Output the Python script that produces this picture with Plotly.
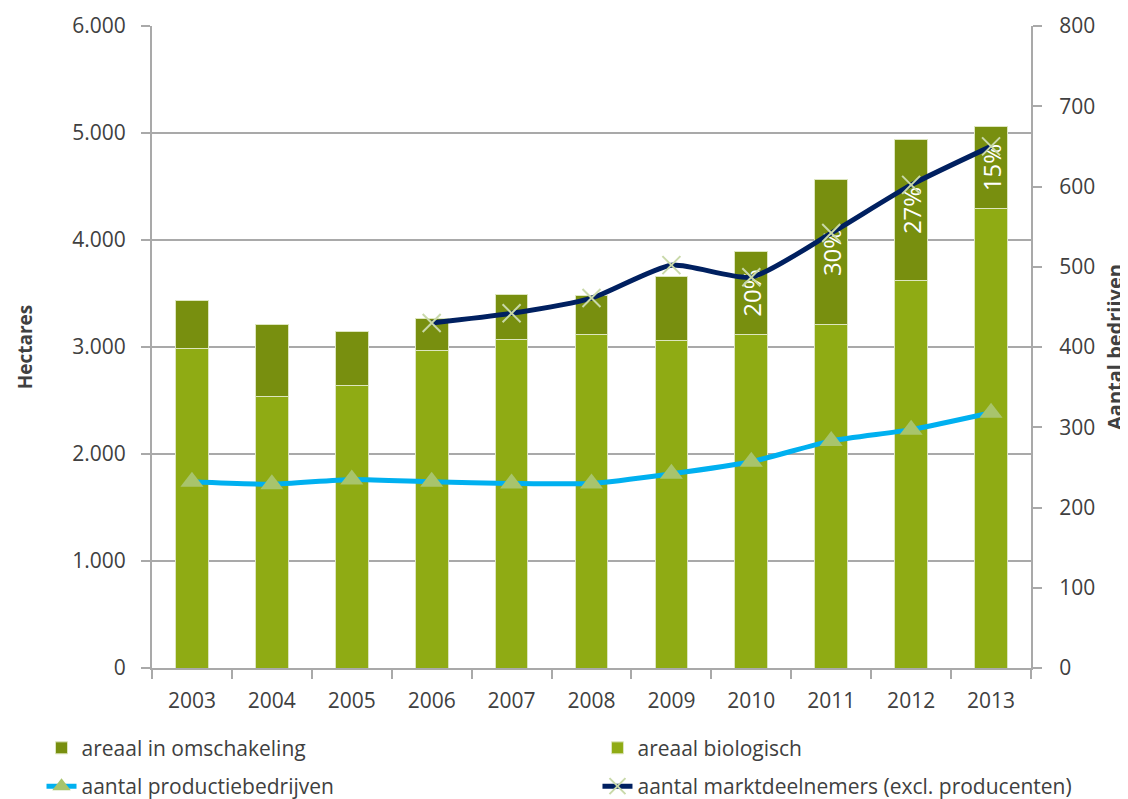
import plotly.graph_objects as go

years = ["2003", "2004", "2005", "2006", "2007", "2008", "2009", "2010", "2011", "2012", "2013"]
areaal_biologisch = [2988, 2542, 2636, 2972, 3072, 3121, 3062, 3121, 3206, 3617, 4293]
areaal_omschakeling = [445, 670, 507, 290, 420, 365, 595, 767, 1355, 1318, 766]
omschakeling_labels = ["", "", "", "", "", "", "", "20%", "30%", "27%", "15%"]
productiebedrijven = [232, 229, 235, 232, 230, 230, 242, 257, 283, 297, 318]
markt_years = ["2006", "2007", "2008", "2009", "2010", "2011", "2012", "2013"]
marktdeelnemers = [430, 442, 461, 502, 487, 542, 602, 650]
left_ticks = [0, 1000, 2000, 3000, 4000, 5000, 6000]
left_ticktext = ["0", "1.000", "2.000", "3.000", "4.000", "5.000", "6.000"]
right_ticks = [0, 100, 200, 300, 400, 500, 600, 700, 800]

FONT = "Open Sans"
TXT = "#404040"
GRID = "#A9A9A9"

fig = go.Figure()
fig.add_trace(go.Bar(
    x=years, y=areaal_biologisch, name="areaal biologisch",
    marker=dict(color="#8FAB14", line=dict(color="#DDE6BE", width=1)),
    legend="legend2", legendgroup="b", legendrank=1,
))
fig.add_trace(go.Bar(
    x=years, y=areaal_omschakeling, name="areaal in omschakeling",
    marker=dict(color="#788F0F", line=dict(color="#DDE6BE", width=1)),
    text=omschakeling_labels, textposition="inside", insidetextanchor="middle",
    textangle=-90, constraintext="none",
    insidetextfont=dict(family=FONT, size=24, color="white"),
    legend="legend", legendgroup="a", legendrank=1,
))
fig.add_trace(go.Scatter(
    x=years, y=productiebedrijven, name="aantal productiebedrijven", yaxis="y2",
    mode="lines+markers", line=dict(color="#00B0F0", width=5, shape="spline", smoothing=0.6),
    marker=dict(symbol="triangle-up", size=20, color="#A8C46C"),
    legend="legend", legendgroup="c", legendrank=2,
))
fig.add_trace(go.Scatter(
    x=markt_years, y=marktdeelnemers, name="aantal marktdeelnemers (excl. producenten)", yaxis="y2",
    mode="lines+markers", line=dict(color="#002060", width=5, shape="spline", smoothing=0.6),
    marker=dict(symbol="x-thin", size=18, color="#C9D9A9", line=dict(color="#C9D9A9", width=2)),
    legend="legend2", legendgroup="d", legendrank=2,
))

legend_common = dict(
    orientation="v", yanchor="top", xanchor="left", traceorder="grouped",
    tracegroupgap=8, font=dict(family=FONT, size=21, color=TXT),
    bgcolor="rgba(0,0,0,0)", borderwidth=0,
)

fig.update_layout(
    width=1120, height=791,
    margin=dict(l=144, r=97, t=18, b=131, autoexpand=False),
    paper_bgcolor="white", plot_bgcolor="white",
    barmode="stack", bargap=0.59,
    font=dict(family=FONT, size=21, color=TXT),
    xaxis=dict(
        type="category", range=[-0.5, len(years) - 0.5], showline=True, linecolor=GRID, linewidth=2,
        ticks="outside", tickson="boundaries", ticklen=9, tickcolor=GRID, tickwidth=2,
        ticklabelstandoff=13,
        tickfont=dict(family=FONT, size=21, color=TXT), showgrid=False,
    ),
    yaxis=dict(
        range=[0, 6000], tickvals=left_ticks, ticktext=left_ticktext,
        showgrid=True, gridcolor=GRID, gridwidth=2, zeroline=False,
        showline=True, linecolor=GRID, linewidth=2,
        ticks="outside", ticklen=9, tickcolor=GRID, tickwidth=2,
        ticklabelstandoff=11,
        tickfont=dict(family=FONT, size=21, color=TXT),
        title=dict(text="<b>Hectares</b>", font=dict(family=FONT, size=19, color=TXT), standoff=35),
    ),
    yaxis2=dict(
        range=[0, 800], tickvals=right_ticks, overlaying="y", side="right",
        showgrid=False, zeroline=False,
        showline=True, linecolor=GRID, linewidth=2,
        ticks="outside", ticklen=9, tickcolor=GRID, tickwidth=2,
        ticklabelstandoff=13,
        tickfont=dict(family=FONT, size=21, color=TXT),
        title=dict(text="<b>Aantal bedrijven</b>", font=dict(family=FONT, size=20, color=TXT), standoff=19),
    ),
    legend=dict(x=-0.1257, y=-0.093, **legend_common),
    legend2=dict(x=0.5068, y=-0.093, **legend_common),
    showlegend=True,
)

fig.write_html("out.html")
